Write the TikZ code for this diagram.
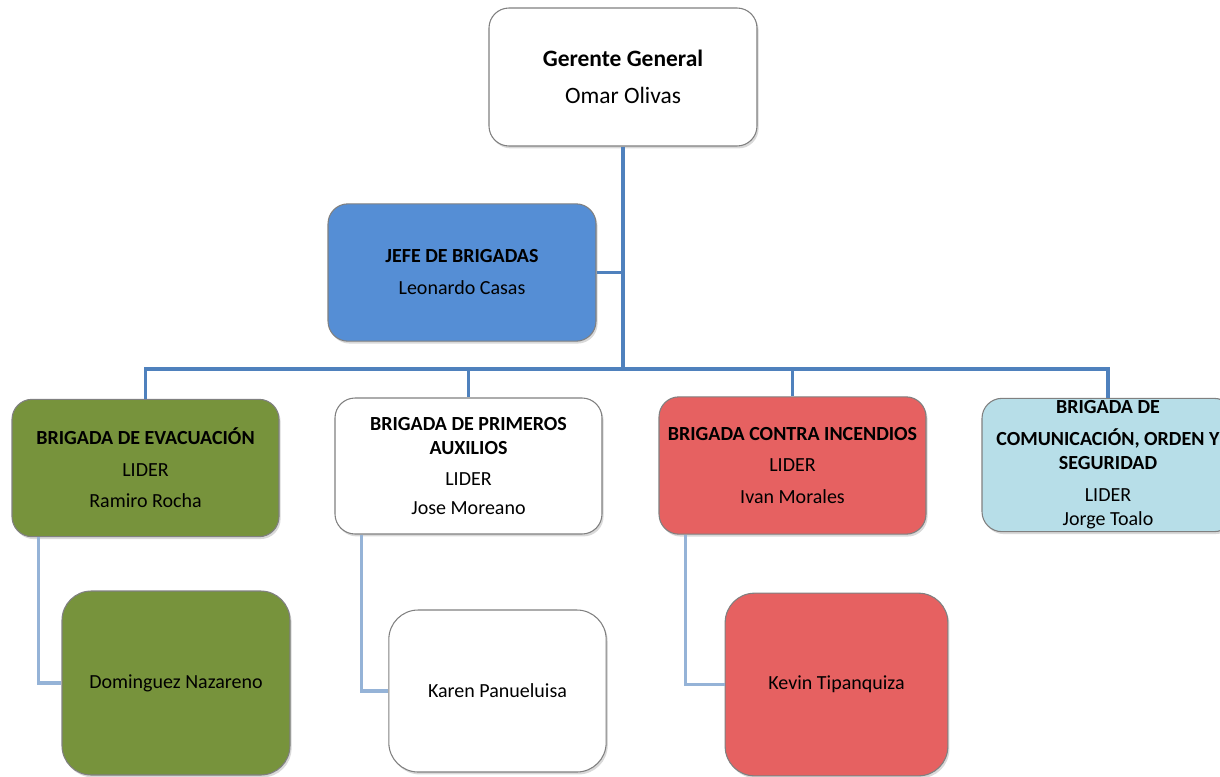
\documentclass[tikz,border=0pt]{standalone}
\usepackage{fontspec}
\setmainfont{Carlito}
\usetikzlibrary{shadows,calc}

\definecolor{lineblue}{HTML}{4F81BD}
\definecolor{sublineblue}{HTML}{95B3D7}
\definecolor{boxgray}{HTML}{808080}
\definecolor{jefeblue}{HTML}{558ED5}
\definecolor{evacgreen}{HTML}{77933C}
\definecolor{firered}{HTML}{E66161}
\definecolor{comblue}{HTML}{B7DEE8}

\tikzset{
  box/.style={draw=boxgray, line width=0.8pt, rounded corners=15pt, align=center,
    inner sep=0pt, drop shadow={shadow xshift=1.2pt, shadow yshift=-1.8pt, opacity=0.3}},
  brigbox/.style={box, minimum width=200.25pt, minimum height=103pt,
    font=\fontsize{15}{18}\selectfont},
  memberbox/.style={box, rounded corners=22pt, font=\fontsize{15}{18}\selectfont},
  conn/.style={draw=lineblue, line width=2.6pt},
  subconn/.style={draw=sublineblue, line width=2.4pt},
}

\begin{document}
\begin{tikzpicture}[x=0.75pt,y=-0.75pt]

% page size and cut
\path[use as bounding box, clip] (0,0) rectangle (1220,776);

% gap between paragraphs in a box
\def\gap{5.6pt}

% ===== Top =====
\node[box, fill=white, minimum width=201pt, minimum height=103.5pt,
  font=\fontsize{17.6}{21}\selectfont] (gerente) at (623,77)
  {\textbf{Gerente General}\\[6.75pt]Omar Olivas};

\node[box, fill=jefeblue, minimum width=201pt, minimum height=103pt,
  font=\fontsize{15}{18}\selectfont] (jefe) at (462,272.5)
  {\textbf{JEFE DE BRIGADAS}\\[6pt]Leonardo Casas};

% ===== Brigades =====
\node[brigbox, fill=evacgreen] (evac) at (145.5,468)
  {\textbf{BRIGADA DE EVACUACIÓN}\\[\gap]LIDER\\[\gap]Ramiro Rocha};

\node[brigbox, fill=white, minimum height=102pt] (auxilios) at (468.5,466)
  {\textbf{BRIGADA DE PRIMEROS}\\\textbf{AUXILIOS}\\[\gap]LIDER\\[4pt]Jose Moreano};

\node[brigbox, fill=firered] (incendios) at (792.5,465.5)
  {\textbf{BRIGADA CONTRA INCENDIOS}\\[\gap]LIDER\\[\gap]Ivan Morales};

\node[brigbox, fill=comblue, minimum width=189pt, minimum height=100pt] (comunic) at (1108,465)
  {\textbf{BRIGADA DE}\\[6pt]\textbf{COMUNICACIÓN, ORDEN Y}\\\textbf{SEGURIDAD}\\[6pt]LIDER\\Jorge Toalo};

% ===== Members =====
\node[memberbox, fill=evacgreen, minimum width=171pt, minimum height=138pt] (dominguez) at (176,683)
  {Dominguez Nazareno};

\node[memberbox, fill=white, minimum width=163pt, minimum height=121.5pt] (karen) at (497.5,691)
  {Karen Panueluisa};

\node[memberbox, fill=firered, minimum width=167pt, minimum height=137pt] (kevin) at (836.5,684.5)
  {Kevin Tipanquiza};

% ===== Connectors =====
\coordinate (bus) at (623,369);

\draw[conn] (gerente.south) -- (bus);
\draw[conn] (jefe.east) -- (jefe.east -| gerente.south);
\draw[conn] (bus) -| (evac.north);
\draw[conn] (bus) -| (auxilios.north);
\draw[conn] (bus) -| (incendios.north);
\draw[conn] (bus) -| (comunic.north);

\draw[subconn] ($(evac.south west)+(27,0)$) |- (dominguez.west);
\draw[subconn] ($(auxilios.south west)+(27,0)$) |- (karen.west);
\draw[subconn] ($(incendios.south west)+(27,0)$) |- (kevin.west);

\end{tikzpicture}
\end{document}
